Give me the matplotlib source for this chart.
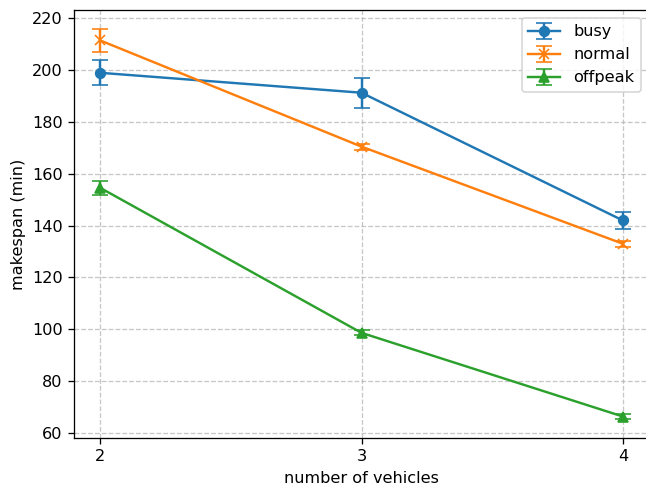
import matplotlib
matplotlib.use('Agg')
import matplotlib.pyplot as plt

vehicles = [2, 3, 4]

busy = [199.0, 191.3, 142.0]
busy_err = [4.8, 5.8, 3.2]
normal = [211.5, 170.5, 133.0]
normal_err = [4.3, 1.2, 1.2]
offpeak = [154.6, 98.6, 66.3]
offpeak_err = [2.8, 1.0, 0.8]

DPI = 116
fig = plt.figure(figsize=(646 / DPI, 490 / DPI), dpi=DPI)
ax = fig.add_axes([0.1146, 0.106, 0.890, 0.874])

ax.errorbar(vehicles, busy, yerr=busy_err, marker='o', capsize=5, label='busy')
ax.errorbar(vehicles, normal, yerr=normal_err, marker='x', capsize=5, label='normal')
ax.errorbar(vehicles, offpeak, yerr=offpeak_err, marker='^', capsize=5, label='offpeak')

ax.set_xticks(vehicles)
ax.set_xlim(1.9, 4.1)
ax.set_xlabel('number of vehicles')
ax.set_ylabel('makespan (min)')
ax.grid(True, ls='--', alpha=0.7)
ax.legend(loc='upper right')

fig.savefig('out.png', dpi=DPI)
